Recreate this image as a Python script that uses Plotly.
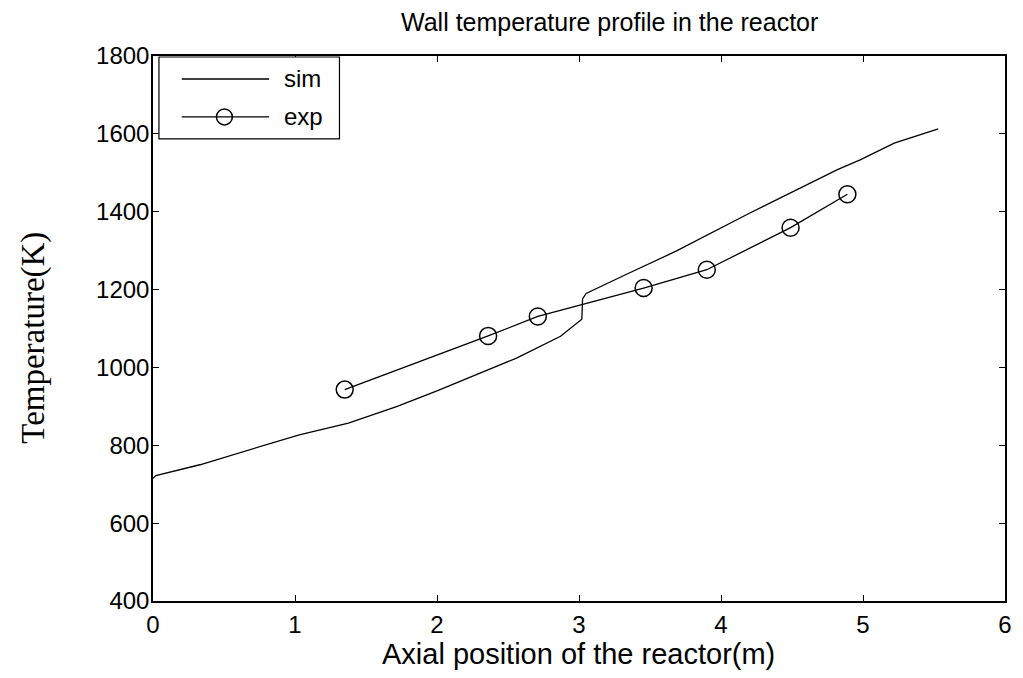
import plotly.graph_objects as go

# Simulated wall temperature along the reactor axis
sim_x = [0.0, 0.02, 0.33, 0.72, 1.03, 1.376, 1.72, 2.0, 2.42, 2.56, 2.87,
         3.0, 3.02, 3.025, 3.05, 3.35, 3.56, 3.68, 4.2, 4.52, 4.82, 4.98,
         5.22, 5.53]
sim_T = [715, 722, 750, 793, 827, 857, 900, 940, 1003, 1024, 1080,
         1118, 1124, 1176, 1190, 1242, 1277, 1298, 1396, 1454, 1508, 1533,
         1576, 1613]

# Measured wall temperatures
exp_x = [1.35, 2.36, 2.71, 3.455, 3.9, 4.49, 4.89]
exp_T = [943, 1081, 1131, 1204, 1251, 1359, 1445]

x_ticks = [0, 1, 2, 3, 4, 5, 6]
y_ticks = [400, 600, 800, 1000, 1200, 1400, 1600, 1800]

W, H = 1023, 678
L, R, T, B = 153, 11, 56, 76.5
pw, ph = W - L - R, H - T - B


def px(x):
    return (x - L) / pw


def py(y):
    return (H - B - y) / ph


sans = "Liberation Sans, Arial, sans-serif"
serif = "Liberation Serif, Times New Roman, serif"

fig = go.Figure()
fig.add_trace(go.Scatter(x=sim_x, y=sim_T, mode="lines", name="sim",
                         line=dict(color="black", width=1.3)))
fig.add_trace(go.Scatter(x=exp_x, y=exp_T, mode="lines+markers", name="exp",
                         line=dict(color="black", width=1.3),
                         marker=dict(symbol="circle-open", size=17,
                                     color="black", line=dict(width=1.5))))

axis_common = dict(showgrid=False, zeroline=False, showline=True,
                   linecolor="black", linewidth=1.5, mirror="ticks",
                   ticks="inside", ticklen=6, tickcolor="black", tickwidth=1,
                   tickfont=dict(family=sans, size=24, color="black"))

fig.update_xaxes(range=[0, 6], tickvals=x_ticks, ticklabelstandoff=1,
                 **axis_common)
fig.update_yaxes(range=[400, 1800], tickvals=y_ticks, ticklabelstandoff=-3,
                 **axis_common)

# Legend box drawn in the upper-left corner of the axes
shapes = [
    dict(type="rect", xref="paper", yref="paper",
         x0=px(159), x1=px(341), y0=py(139), y1=py(57),
         line=dict(color="black", width=1.2), fillcolor="white", layer="above"),
    dict(type="line", xref="paper", yref="paper",
         x0=px(182), x1=px(270), y0=py(79), y1=py(79),
         line=dict(color="black", width=1.3), layer="above"),
    dict(type="line", xref="paper", yref="paper",
         x0=px(182), x1=px(270), y0=py(117), y1=py(117),
         line=dict(color="black", width=1.3), layer="above"),
    dict(type="circle", xref="paper", yref="paper",
         x0=px(217), x1=px(233), y0=py(125), y1=py(109),
         line=dict(color="black", width=1.5), layer="above"),
]

annotations = [
    dict(text="sim", xref="paper", yref="paper", x=px(283), y=py(79),
         xanchor="left", yanchor="middle", showarrow=False,
         font=dict(family=sans, size=24, color="black")),
    dict(text="exp", xref="paper", yref="paper", x=px(283), y=py(117),
         xanchor="left", yanchor="middle", showarrow=False,
         font=dict(family=sans, size=24, color="black")),
    dict(text="Wall temperature profile in the reactor", xref="paper",
         yref="paper", x=px(613), y=py(22), xanchor="center",
         yanchor="middle", showarrow=False,
         font=dict(family=sans, size=25, color="black")),
    dict(text="Axial position of the reactor(m)", xref="paper", yref="paper",
         x=px(582), y=py(655), xanchor="center", yanchor="middle",
         showarrow=False, font=dict(family=sans, size=29, color="black")),
    dict(text="Temperature(K)", xref="paper", yref="paper",
         x=px(33), y=py(338), xanchor="center", yanchor="middle",
         textangle=-90, showarrow=False,
         font=dict(family=serif, size=33, color="black")),
]

fig.update_layout(width=W, height=H, autosize=False,
                  margin=dict(l=L, r=R, t=T, b=B, pad=0),
                  paper_bgcolor="white", plot_bgcolor="white",
                  showlegend=False, shapes=shapes, annotations=annotations)

fig.write_html("out.html")
